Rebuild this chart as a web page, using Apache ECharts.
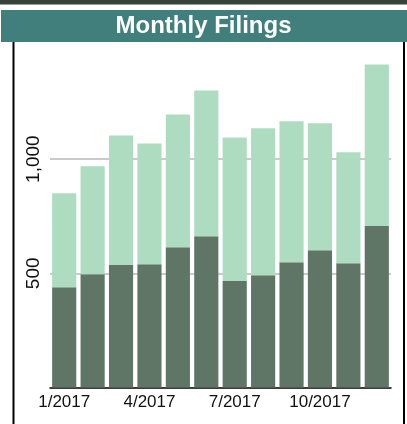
<!DOCTYPE html>
<html><head><meta charset="utf-8">
<script src="https://cdn.jsdelivr.net/npm/echarts@6/dist/echarts.min.js"></script>
<style>html,body{margin:0;padding:0;background:#fff}#c{width:407px;height:424px}</style>
</head><body><div id="c"></div>
<script>
var categories = ['1/2017','2/2017','3/2017','4/2017','5/2017','6/2017','7/2017','8/2017','9/2017','10/2017','11/2017','12/2017'];
var darkValues = [439, 496, 536, 540, 614, 662, 466, 492, 549, 601, 544, 707];
var lightValues = [412, 473, 568, 529, 582, 639, 629, 643, 617, 556, 486, 708];
var yTicks = [0, 500, 1000, 1500];

var chart = echarts.init(document.getElementById('c'), null, {renderer: 'canvas'});
chart.setOption({
  animation: false,
  backgroundColor: '#fff',
  title: {
    text: 'Monthly Filings', left: 'center', top: 9,
    textStyle: {color: '#fff', fontSize: 24, fontWeight: 'bold', fontFamily: 'Liberation Sans, Arial, sans-serif'}
  },
  graphic: [
    {type: 'rect', shape: {x: 0, y: 0, width: 407, height: 4.5}, style: {fill: '#35433a'}, z: -1},
    {type: 'rect', shape: {x: 1, y: 10, width: 406, height: 32}, style: {fill: '#417f7c'}, z: -1},
    {type: 'line', shape: {x1: 13.5, y1: 42, x2: 13.5, y2: 424}, style: {stroke: '#000', lineWidth: 2}},
    {type: 'line', shape: {x1: 404, y1: 42, x2: 404, y2: 424}, style: {stroke: '#000', lineWidth: 2}}
  ],
  grid: {left: 50, right: 16, top: 45, bottom: 36.5},
  xAxis: {
    type: 'category', data: categories,
    axisLine: {show: true, lineStyle: {color: '#000', width: 1.5}},
    axisTick: {show: false},
    axisLabel: {interval: 2, margin: 6, fontSize: 17, color: '#111', fontFamily: 'Liberation Sans, Arial, sans-serif'}
  },
  yAxis: {
    type: 'value', min: yTicks[0], max: yTicks[yTicks.length - 1], interval: 500,
    axisLine: {show: false}, axisTick: {show: false},
    axisLabel: {
      rotate: 90, margin: 7, fontSize: 19, color: '#111', fontFamily: 'Liberation Sans, Arial, sans-serif',
      showMinLabel: false, showMaxLabel: false,
      formatter: function (v) { return v.toLocaleString('en-US'); }
    },
    splitLine: {show: true, lineStyle: {color: ['rgba(0,0,0,0)', '#b8b8b8', '#b8b8b8', 'rgba(0,0,0,0)'], width: 1.5}}
  },
  series: [
    {type: 'bar', stack: 'f', data: darkValues, barCategoryGap: '15%', itemStyle: {color: '#5f7666'}},
    {type: 'bar', stack: 'f', data: lightValues, barCategoryGap: '15%', itemStyle: {color: '#aedcc0'}}
  ]
});
</script></body></html>
